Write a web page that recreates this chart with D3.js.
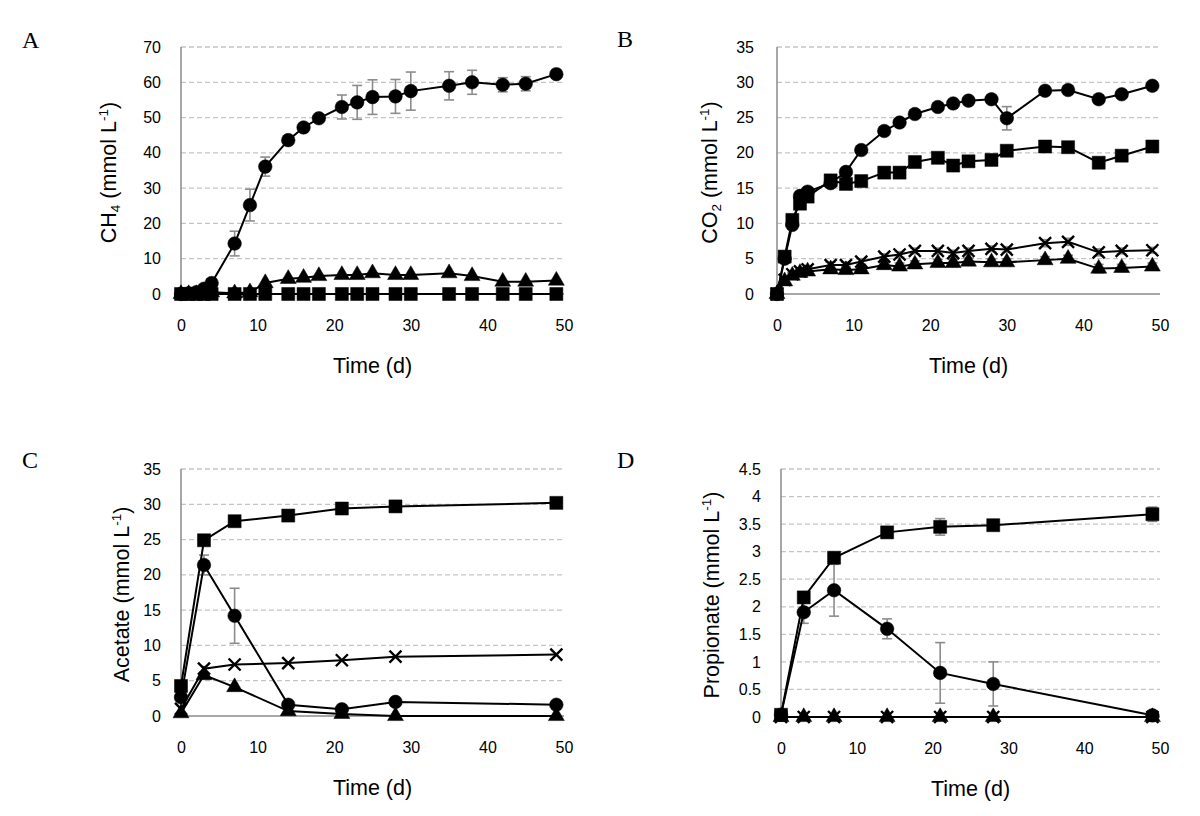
<!DOCTYPE html>
<html><head><meta charset="utf-8">
<script src="https://cdn.jsdelivr.net/npm/d3@7/dist/d3.min.js"></script>
<style>body{margin:0;background:#fff}svg{display:block}</style>
</head><body><svg id="chart" width="1200" height="816"></svg>
<script>
// ---------- data ----------
const daysGas = [0,1,2,3,4,7,9,11,14,16,18,21,23,25,28,30,35,38,42,45,49];
const daysVfa = [0,3,7,14,21,28,49];
const xTicks = [0,10,20,30,40,50];

// Panel A: CH4
const ch4Circle    = [0,0.2,0.5,1.5,3.1,14.3,25.2,36.1,43.6,47.2,49.8,53,54.3,55.8,56,57.5,59,60,59.3,59.6,62.3];
const ch4CircleErr = [0,0,0,0.5,1,3.5,4.5,2.7,1,1,1,3.4,4.8,4.9,4.8,5.4,4,3.4,2,2,0.8];
const ch4Triangle  = [0,0,0,0.2,0.5,0.2,0.5,3.1,4.3,4.6,5.1,5.4,5.4,5.9,5.4,5.4,5.9,5.1,3.5,3.5,3.8];
const ch4Square    = [0,0,0,0,0,0,0,0,0,0,0,0,0,0,0,0,0,0,0,0,0];
const ch4Ticks = [0,10,20,30,40,50,60,70];

// Panel B: CO2
const co2Circle    = [0,5.0,9.8,13.9,14.5,15.7,17.3,20.4,23.1,24.3,25.5,26.5,27.0,27.4,27.6,24.9,28.8,28.9,27.6,28.3,29.5];
const co2CircleErr = [0,0.3,0.5,0.5,0.5,0.5,0.5,0.5,0.5,0.5,0.5,0.5,0.5,0.5,0.5,1.65,0.6,0.6,0.6,0.5,0.5];
const co2Square    = [0,5.3,10.5,12.8,13.8,16.1,15.6,16.0,17.2,17.2,18.7,19.3,18.2,18.8,19.0,20.3,20.9,20.8,18.6,19.6,20.9];
const co2SquareErr = [0,0.3,0.4,0.4,0.4,0.4,0.4,0.4,0.4,0.4,0.4,0.4,0.4,0.4,0.4,0.4,0.5,0.5,0.5,0.4,0.4];
const co2Cross     = [0,2.0,2.8,3.2,3.5,4.1,4.1,4.6,5.3,5.6,6.1,6.1,5.8,6.1,6.4,6.3,7.2,7.4,5.9,6.1,6.2];
const co2CrossErr  = [0,0.3,0.3,0.3,0.3,0.4,0.4,0.4,0.4,0.4,0.4,0.4,0.4,0.4,0.4,0.4,0.5,0.5,0.5,0.4,0.4];
const co2Triangle  = [0,1.8,2.6,3.0,3.2,3.5,3.4,3.5,4.1,3.9,4.2,4.4,4.4,4.6,4.5,4.5,4.8,5.0,3.6,3.7,3.9];
const co2TriangleErr = [0,0.3,0.4,0.4,0.4,0.5,0.5,0.5,0.5,0.5,0.5,0.5,0.5,0.5,0.5,0.5,0.5,0.5,0.6,0.5,0.5];
const co2Ticks = [0,5,10,15,20,25,30,35];

// Panel C: Acetate
const acSquare    = [4.25,24.9,27.6,28.4,29.4,29.7,30.2];
const acCircle    = [2.65,21.4,14.2,1.6,0.95,2.0,1.6];
const acCircleErr = [0,1.4,3.9,0.3,0.3,0.3,0.3];
const acCross     = [1.0,6.7,7.3,7.5,7.9,8.4,8.7];
const acTriangle  = [0.4,5.8,4.1,0.7,0.3,0,0];
const acTicks = [0,5,10,15,20,25,30,35];

// Panel D: Propionate
const prSquare    = [0.04,2.17,2.89,3.35,3.45,3.48,3.68];
const prSquareErr = [0,0.05,0.05,0.07,0.15,0.03,0.13];
const prCircle    = [0.04,1.9,2.3,1.6,0.8,0.6,0.03];
const prCircleErr = [0,0.2,0.47,0.18,0.55,0.4,0.03];
const prCross     = [0,0,0,0,0,0,0];
const prTriangle  = [0,0,0,0,0,0,0];
const prTicks = [0,0.5,1,1.5,2,2.5,3,3.5,4,4.5];

// ---------- drawing ----------
const svg = d3.select("#chart");
const FONT = "'Liberation Sans', Arial, sans-serif";

function markerPath(shape){
  if (shape === "circle") return d3.symbol(d3.symbolCircle, 145)();
  if (shape === "square") return d3.symbol(d3.symbolSquare, 170)();
  if (shape === "triangle") return d3.symbol(d3.symbolTriangle, 110)();
  const s = 6;
  return `M${-s},${-s}L${s},${s}M${-s},${s}L${s},${-s}`;
}

function drawPanel(p){
  const x = d3.scaleLinear().domain([0,50]).range([p.left, p.right]);
  const y = d3.scaleLinear().domain([0, p.ymax]).range([p.bottom, p.top]);
  const g = svg.append("g");

  // gridlines
  g.append("g").selectAll("line").data(p.yTicks.filter(t => t > 0)).join("line")
    .attr("x1", p.left).attr("x2", p.right)
    .attr("y1", d => y(d)).attr("y2", d => y(d))
    .attr("stroke", "#c4c4c4").attr("stroke-width", 1.3).attr("stroke-dasharray", "5,3");

  // y axis labels
  const ya = g.append("g").attr("transform", `translate(${p.left},0)`)
    .call(d3.axisLeft(y).tickValues(p.yTicks).tickSize(0).tickPadding(p.ypad).tickFormat(d => String(d)));
  ya.select(".domain").remove();
  ya.selectAll("text").attr("font-family", FONT).attr("font-size", 16).attr("fill", "#000");

  // x axis labels
  const xa = g.append("g").attr("transform", `translate(0,${p.bottom})`)
    .call(d3.axisBottom(x).tickValues(xTicks).tickSize(0).tickPadding(26).tickFormat(d => String(d)));
  xa.select(".domain").remove();
  xa.selectAll("text").attr("font-family", FONT).attr("font-size", 16).attr("fill", "#000");

  // axis lines
  g.append("line").attr("x1", p.left).attr("x2", p.left).attr("y1", p.top).attr("y2", p.bottom)
    .attr("stroke", "#8a8a8a").attr("stroke-width", 1.5);
  g.append("line").attr("x1", p.left).attr("x2", p.right).attr("y1", p.bottom).attr("y2", p.bottom)
    .attr("stroke", "#8a8a8a").attr("stroke-width", 1.5);

  // titles
  g.append("text").attr("x", (p.left + p.right) / 2).attr("y", p.bottom + 79)
    .attr("text-anchor", "middle").attr("font-family", FONT).attr("font-size", 21.5).text("Time (d)");
  const yt = g.append("text")
    .attr("transform", `translate(${p.titleX},${(p.top + p.bottom) / 2 + 2}) rotate(-90)`)
    .attr("text-anchor", "middle").attr("dy", "0.35em")
    .attr("font-family", FONT).attr("font-size", 21.5);
  p.title.forEach(part => {
    const t = yt.append("tspan").text(part.t);
    if (part.sub) t.attr("font-size", 13.5).attr("dy", 4);
    else if (part.sup) t.attr("font-size", 13.5).attr("dy", -8);
    else if (part.reset) t.attr("dy", part.reset);
  });
  svg.append("text").attr("x", p.letterX).attr("y", p.letterY)
    .attr("font-family", "'Liberation Serif', 'Times New Roman', serif").attr("font-size", 24).text(p.letter);

  const days = p.days;
  const line = d3.line().x((d,i) => x(days[i])).y(d => y(d));

  p.series.forEach(s => {
    if (s.err) {
      const eg = g.append("g").attr("stroke", "#8c8c8c").attr("stroke-width", 1.6);
      s.values.forEach((v,i) => {
        const e = s.err[i];
        if (!e) return;
        const cx = x(days[i]);
        const y1 = y(Math.max(0, v - e)), y2 = y(v + e);
        eg.append("line").attr("x1", cx).attr("x2", cx).attr("y1", y1).attr("y2", y2);
        eg.append("line").attr("x1", cx - 5).attr("x2", cx + 5).attr("y1", y1).attr("y2", y1);
        eg.append("line").attr("x1", cx - 5).attr("x2", cx + 5).attr("y1", y2).attr("y2", y2);
      });
    }
  });
  p.series.forEach(s => {
    g.append("path").attr("d", line(s.values)).attr("fill", "none")
      .attr("stroke", "#000").attr("stroke-width", 2);
    const mp = markerPath(s.shape);
    g.append("g").selectAll("path").data(s.values).join("path")
      .attr("transform", (d,i) => `translate(${x(days[i])},${y(d)})`)
      .attr("d", mp)
      .attr("fill", s.shape === "cross" ? "none" : "#000")
      .attr("stroke", "#000").attr("stroke-width", s.shape === "cross" ? 2.4 : 0.5);
  });
}

drawPanel({
  left: 181, right: 564, top: 47, bottom: 294, ymax: 70, yTicks: ch4Ticks, ypad: 20,
  titleX: 108, letter: "A", letterX: 22, letterY: 48, days: daysGas,
  title: [{t: "CH"}, {t: "4", sub: true}, {t: " (mmol L", reset: -4}, {t: "-1", sup: true}, {t: ")", reset: 8}],
  series: [
    {shape: "square", values: ch4Square},
    {shape: "triangle", values: ch4Triangle},
    {shape: "circle", values: ch4Circle, err: ch4CircleErr}
  ]
});
drawPanel({
  left: 777, right: 1160, top: 47, bottom: 294, ymax: 35, yTicks: co2Ticks, ypad: 23,
  titleX: 709, letter: "B", letterX: 617, letterY: 47, days: daysGas,
  title: [{t: "CO"}, {t: "2", sub: true}, {t: " (mmol L", reset: -4}, {t: "-1", sup: true}, {t: ")", reset: 8}],
  series: [
    {shape: "triangle", values: co2Triangle, err: co2TriangleErr},
    {shape: "cross", values: co2Cross, err: co2CrossErr},
    {shape: "square", values: co2Square, err: co2SquareErr},
    {shape: "circle", values: co2Circle, err: co2CircleErr}
  ]
});
drawPanel({
  left: 181, right: 564, top: 469, bottom: 716, ymax: 35, yTicks: acTicks, ypad: 20,
  titleX: 121, letter: "C", letterX: 22, letterY: 468, days: daysVfa,
  title: [{t: "Acetate (mmol L"}, {t: "-1", sup: true}, {t: ")", reset: 8}],
  series: [
    {shape: "triangle", values: acTriangle},
    {shape: "cross", values: acCross},
    {shape: "circle", values: acCircle, err: acCircleErr},
    {shape: "square", values: acSquare}
  ]
});
drawPanel({
  left: 781, right: 1160, top: 469, bottom: 717, ymax: 4.5, yTicks: prTicks, ypad: 20,
  titleX: 711, letter: "D", letterX: 617, letterY: 468, days: daysVfa,
  title: [{t: "Propionate (mmol L"}, {t: "-1", sup: true}, {t: ")", reset: 8}],
  series: [
    {shape: "cross", values: prCross},
    {shape: "triangle", values: prTriangle},
    {shape: "circle", values: prCircle, err: prCircleErr},
    {shape: "square", values: prSquare, err: prSquareErr}
  ]
});
</script>
</body></html>
